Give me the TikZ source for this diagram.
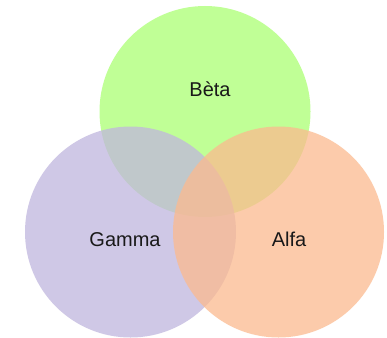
\documentclass[tikz,border=0pt]{standalone}
\usepackage{fontspec}
\setmainfont{Liberation Sans}
\definecolor{cgreen}{RGB}{171,255,115}
\definecolor{cpurple}{RGB}{192,182,222}
\definecolor{corange}{RGB}{252,186,143}
\begin{document}
\begin{tikzpicture}[x=1pt,y=-1pt,
  venn/.style={circle,minimum size=211pt,inner sep=0pt,fill opacity=0.75,draw=none},
  lbl/.style={font=\fontsize{20}{24}\selectfont,text=black!90,anchor=center}]
\useasboundingbox[fill=white] (0,0) rectangle (387,337);
\node[venn,fill=cgreen] (beta) at (205,111.5) {};
\node[venn,fill=cpurple] (gamma) at (130.5,232) {};
\node[venn,fill=corange] (alfa) at (278.5,232) {};
\node[lbl] (tbeta) at (210,89) {B\`eta};
\node[lbl] (tgamma) at (125,239.5) {Gamma};
\node[lbl] (talfa) at (289,239.5) {Alfa};
\end{tikzpicture}
\end{document}
